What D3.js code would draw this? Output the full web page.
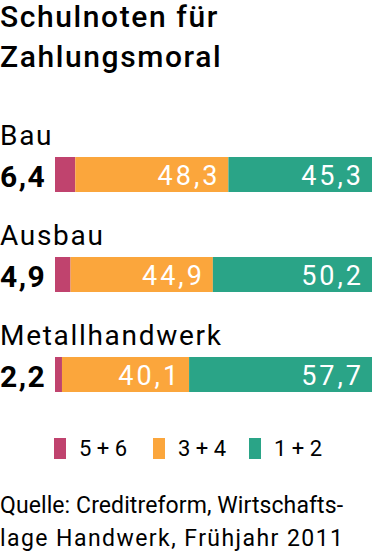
<!DOCTYPE html>
<html>
<head>
<meta charset="utf-8">
<script src="https://cdn.jsdelivr.net/npm/d3@7"></script>
<style>
  body { margin: 0; background: #fff; }
  svg { display: block; font-family: Roboto, "Open Sans", sans-serif; }
</style>
</head>
<body>
<svg id="chart" width="372" height="555"></svg>
<script>
// data
var branches = ["Bau", "Ausbau", "Metallhandwerk"];
var noten56 = [6.4, 4.9, 2.2];
var noten34 = [48.3, 44.9, 40.1];
var noten12 = [45.3, 50.2, 57.7];
var legendLabels = ["5 + 6", "3 + 4", "1 + 2"];
var colors = ["#c0436e", "#fba63c", "#2aa487"];

var svg = d3.select("#chart");
var fmt = function (v) { return String(v.toFixed(1)).replace(".", ","); };

// title
svg.append("text").attr("x", 0).attr("y", 27)
    .style("font-size", "30px").style("font-weight", "500")
    .style("letter-spacing", "1.6px")
    .text("Schulnoten für");
svg.append("text").attr("x", 0).attr("y", 67)
    .style("font-size", "30px").style("font-weight", "500")
    .style("letter-spacing", "1.6px")
    .text("Zahlungsmoral");

var x = d3.scaleLinear().domain([0, 100]).range([55, 372]);
var y = d3.scaleBand().domain(branches).range([132, 432]).paddingInner(0).paddingOuter(0);
var barTop = 25, barH = 35;

var rows = svg.selectAll("g.row")
    .data(branches)
    .enter()
    .append("g")
    .attr("class", "row")
    .attr("transform", function (d) { return "translate(0," + y(d) + ")"; });

rows.append("text")
    .attr("x", 0)
    .attr("y", 13)
    .style("font-size", "28px")
    .style("letter-spacing", "1.7px")
    .text(function (d) { return d; });

rows.append("text")
    .attr("x", 0)
    .attr("y", barTop + 30)
    .style("font-size", "30px")
    .style("font-weight", "bold")
    .style("letter-spacing", "1.5px")
    .text(function (d, i) { return fmt(noten56[i]); });

rows.each(function (d, i) {
    var g = d3.select(this);
    var vals = [noten56[i], noten34[i], noten12[i]];
    var start = 0;
    vals.forEach(function (v, k) {
        g.append("rect")
            .attr("x", x(start))
            .attr("y", barTop)
            .attr("width", x(start + v) - x(start))
            .attr("height", barH)
            .attr("fill", colors[k]);
        if (k > 0) {
            g.append("text")
                .attr("x", x(start + v) - 8)
                .attr("y", barTop + 28)
                .attr("text-anchor", "end")
                .style("font-size", "27px")
                .style("letter-spacing", "3px")
                .style("fill", "#fff")
                .text(fmt(v));
        }
        start += v;
    });
});

// legend
var legX = [54, 153, 249];
legendLabels.forEach(function (l, i) {
    svg.append("rect")
        .attr("x", legX[i]).attr("y", 438)
        .attr("width", 12).attr("height", 21)
        .attr("fill", colors[i]);
    svg.append("text")
        .attr("x", legX[i] + 25).attr("y", 456)
        .style("font-size", "22px")
        .text(l);
});

// source
svg.append("text").attr("x", 0).attr("y", 513)
    .style("font-size", "23px")
    .attr("textLength", 343).attr("lengthAdjust", "spacing")
    .text("Quelle: Creditreform, Wirtschafts-");
svg.append("text").attr("x", 0).attr("y", 546)
    .style("font-size", "23px")
    .attr("textLength", 343).attr("lengthAdjust", "spacing")
    .text("lage Handwerk, Frühjahr 2011");
</script>
</body>
</html>
